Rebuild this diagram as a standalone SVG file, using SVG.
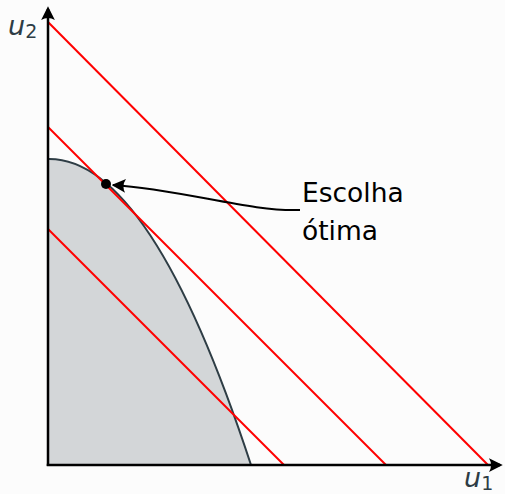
<svg xmlns="http://www.w3.org/2000/svg" width="505" height="494" viewBox="0 0 505 494">
<style>
.red{stroke:#ff0000;stroke-width:2;fill:none}
.axis{stroke:#000;stroke-width:2.5;fill:none}
.lbl{font-family:"DejaVu Sans",sans-serif;fill:#2e3d45}
.txt{font-family:"DejaVu Sans",sans-serif;font-size:26.5px;fill:#000}
</style>
<defs>
<marker id="ah" viewBox="0 0 10 10" refX="8" refY="5" markerWidth="5.5" markerHeight="5.5" orient="auto" markerUnits="strokeWidth">
<path d="M0,0 L10,5 L0,10 Q3,5 0,0 Z" fill="#000"/>
</marker>
<marker id="ah2" viewBox="0 0 10 10" refX="9" refY="5" markerWidth="7" markerHeight="7" orient="auto" markerUnits="strokeWidth">
<path d="M0,0 L10,5 L0,10 Q3,5 0,0 Z" fill="#000"/>
</marker>
</defs>
<rect width="505" height="494" fill="#fcfcfc"/>
<g id="region">
<path d="M48,465 L48,159 Q150,157 251,465 Z" fill="#d3d6d8"/>
<path d="M48,159 Q150,157 251,465" fill="none" stroke="#2e3d45" stroke-width="2"/>
</g>
<g id="lines">
<line class="red" x1="48" y1="22" x2="488" y2="465"/>
<line class="red" x1="48" y1="127" x2="386" y2="465"/>
<line class="red" x1="48" y1="229" x2="284" y2="465"/>
</g>
<g id="axes">
<line class="axis" x1="48" y1="466" x2="48" y2="9" marker-end="url(#ah)"/>
<line class="axis" x1="46.75" y1="465" x2="500" y2="465" marker-end="url(#ah)"/>
<text class="lbl" x="8" y="35" font-size="27"><tspan font-style="italic">u</tspan><tspan font-size="19" dy="3">2</tspan></text>
<text class="lbl" x="464" y="487" font-size="27"><tspan font-style="italic">u</tspan><tspan font-size="19" dy="3">1</tspan></text>
</g>
<g id="connectors">
<path d="M300,210 C250,212 185,190 113,185" fill="none" stroke="#000" stroke-width="2" marker-end="url(#ah2)"/>
</g>
<g id="optimum">
<circle cx="106" cy="184" r="5" fill="#000"/>
</g>
<g id="label">
<text class="txt" x="302" y="202">Escolha</text>
<text class="txt" x="302" y="240">ótima</text>
</g>
</svg>
